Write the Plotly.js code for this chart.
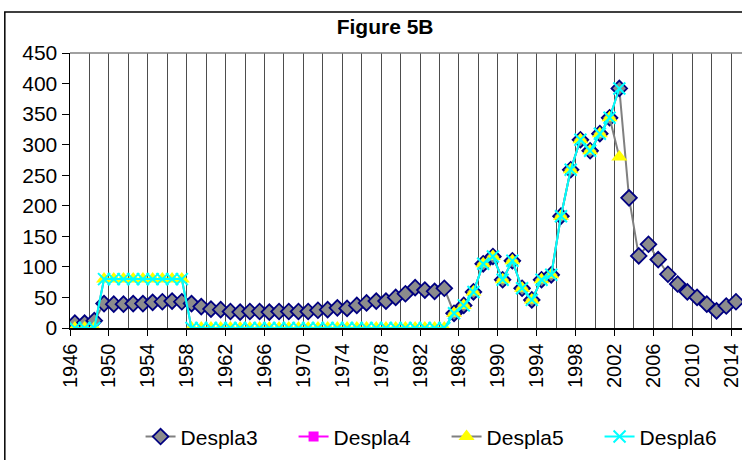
<!DOCTYPE html>
<html>
<head>
<meta charset="utf-8">
<script src="https://cdn.plot.ly/plotly-3.0.1.min.js"></script>
<style>html,body{margin:0;padding:0;background:#fff;}#chart{width:742px;height:460px;}</style>
</head>
<body>
<div id="chart"></div>
<script>
var years = [1946,1947,1948,1949,1950,1951,1952,1953,1954,1955,1956,1957,1958,1959,1960,1961,1962,1963,1964,1965,1966,1967,1968,1969,1970,1971,1972,1973,1974,1975,1976,1977,1978,1979,1980,1981,1982,1983,1984,1985,1986,1987,1988,1989,1990,1991,1992,1993,1994,1995,1996,1997,1998,1999,2000,2001,2002,2003,2004,2005,2006,2007,2008,2009,2010,2011,2012,2013,2014];

var despla3 = [8,8,12,40,39,39,40,40,42,43,44,43,40,35,31,30,27,26,27,27,26,27,27,27,27,29,30,33,32,37,41,44,44,50,56,66,62,60,65,24,37,59,105,117,79,110,65,46,79,87,183,259,308,290,318,344,392,213,118,137,112,88,72,59,50,39,28,36,43];

var despla4 = [null,null,null,null,null,null,null,null,null,null,null,null,null,null,null,null,null,null,null,null,null,null,null,null,null,null,null,null,null,null,null,null,null,null,null,null,null,null,null,null,null,null,null,null,null,null,null,null,null,null,null,null,null,null,null,null,null,null,null,null,null,null,null,null,null,null,null,null,null];

var despla5 = [0,0,0,80,80,80,80,80,80,80,80,80,0,0,0,0,0,0,0,0,0,0,0,0,0,0,0,0,0,0,0,0,0,0,0,0,0,0,0,24,37,59,105,117,79,110,65,46,79,87,183,259,308,290,318,344,280,null,null,null,null,null,null,null,null,null,null,null,null];

var despla6 = [0,0,0,80,80,80,80,80,80,80,80,80,0,0,0,0,0,0,0,0,0,0,0,0,0,0,0,0,0,0,0,0,0,0,0,0,0,0,0,24,37,59,105,117,79,110,65,46,79,87,183,259,308,290,318,344,392,null,null,null,null,null,null,null,null,null,null,null,null];

var tickLabels = [1946,1950,1954,1958,1962,1966,1970,1974,1978,1982,1986,1990,1994,1998,2002,2006,2010,2014];

var FONT = 'Liberation Sans, Arial, sans-serif';

var traces = [
  {name:'Despla3', x:years, y:despla3, type:'scatter', mode:'lines+markers',
   line:{color:'#808080', width:2},
   marker:{symbol:'diamond', size:12, color:'#8c8c8c', line:{color:'#000080', width:1.8}}},
  {name:'Despla4', x:years, y:despla4, type:'scatter', mode:'lines+markers',
   line:{color:'#ff00ff', width:2},
   marker:{symbol:'square', size:10, color:'#ff00ff'}},
  {name:'Despla5', x:years, y:despla5, type:'scatter', mode:'lines+markers',
   line:{color:'#808080', width:2},
   marker:{symbol:'triangle-up', size:14, color:'#ffff00', line:{width:0}}},
  {name:'Despla6', x:years, y:despla6, type:'scatter', mode:'lines+markers',
   line:{color:'#00ffff', width:2},
   marker:{symbol:'x-thin', size:12, color:'#00ffff', line:{color:'#00ffff', width:2}}}
];

var layout = {
  width:742, height:460,
  margin:{l:70, r:0, t:53, b:132, autoexpand:false},
  paper_bgcolor:'#ffffff', plot_bgcolor:'#ffffff',
  font:{family:FONT, color:'#000', size:21},
  title:{text:'<b>Figure 5B</b>', font:{family:FONT, size:21, color:'#000'},
         xref:'container', x:0.519, xanchor:'center', yref:'container', y:0.941, yanchor:'middle'},
  showlegend:true,
  legend:{orientation:'h', x:0.105, xanchor:'left', y:-0.396, yanchor:'middle',
          font:{family:FONT, size:21, color:'#000'}, entrywidth:108, entrywidthmode:'pixels',
          bgcolor:'rgba(0,0,0,0)'},
  xaxis:{
    range:[1945.5, 2014.62], tickmode:'array', automargin:false,
    tickvals:tickLabels.map(function(v){return v-0.5;}),
    ticktext:tickLabels.map(String), ticklabeloverflow:'allow',
    tickangle:-90, ticks:'outside', ticklen:6, tickcolor:'#000',
    showline:true, linecolor:'#000', linewidth:1.5,
    showgrid:true, gridcolor:'#4d4d4d', gridwidth:1,
    minor:{tick0:1945.5, dtick:2, showgrid:true, gridcolor:'#4d4d4d', gridwidth:1, ticks:''},
    zeroline:false, tickfont:{family:FONT, size:20, color:'#000'}
  },
  yaxis:{
    range:[0,450], dtick:50, tick0:0, ticks:'outside', ticklen:7, tickcolor:'#000', automargin:false,
    showline:true, linecolor:'#000', linewidth:1.5, showgrid:false, zeroline:false,
    tickfont:{family:FONT, size:21, color:'#000'}
  },
  shapes:[
    {type:'line', xref:'paper', yref:'paper', x0:0, x1:1, y0:1, y1:1, line:{color:'#808080', width:1.5}},
    {type:'rect', xref:'paper', yref:'paper', x0:-0.097, x1:1.2, y0:-0.6, y1:1.149, line:{color:'#000', width:1.5}, fillcolor:'rgba(0,0,0,0)'}
  ]
};

Plotly.newPlot('chart', traces, layout, {displayModeBar:false, staticPlot:true});
</script>
</body>
</html>
